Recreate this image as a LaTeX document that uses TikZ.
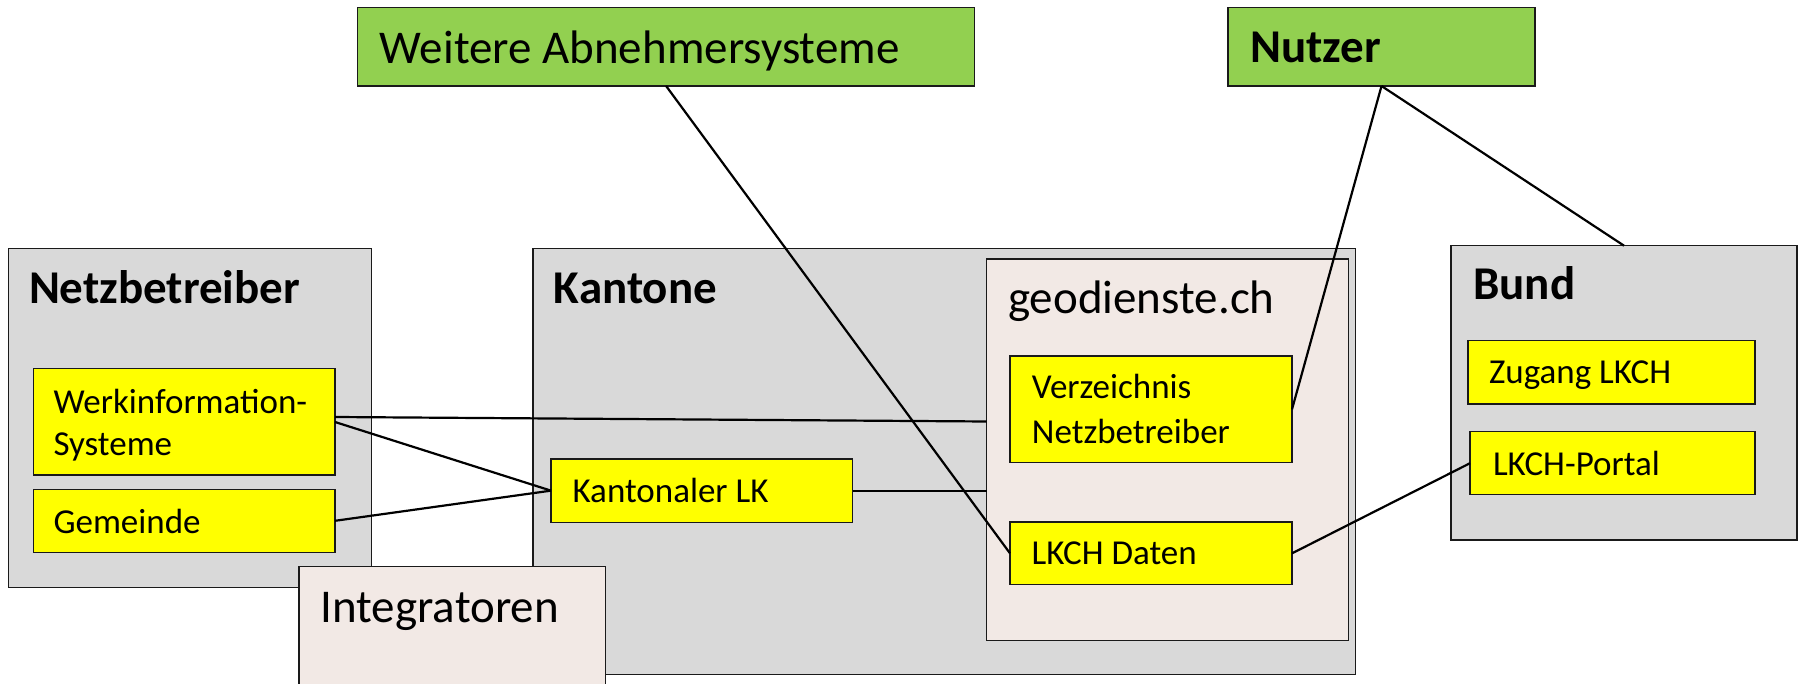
\documentclass[tikz,border=0pt]{standalone}
\usepackage{fontspec}
\setmainfont{Carlito}
\usetikzlibrary{calc}
\definecolor{boxgray}{HTML}{D9D9D9}
\definecolor{boxyellow}{HTML}{FFFF00}
\definecolor{boxgreen}{HTML}{92D050}
\definecolor{boxbeige}{HTML}{F2E9E5}
\definecolor{edgecol}{HTML}{1A1A1A}
\tikzset{
  box/.style={draw=edgecol, line width=1.5pt, inner sep=0pt, outer sep=0pt, anchor=north west, rectangle},
  graybox/.style={box, fill=boxgray},
  yellowbox/.style={box, fill=boxyellow},
  greenbox/.style={box, fill=boxgreen},
  beigebox/.style={box, fill=boxbeige},
  bigtxt/.style={anchor=base west, inner sep=0pt, font=\fontsize{47}{56}\selectfont},
  bigbold/.style={anchor=base west, inner sep=0pt, font=\fontsize{47}{56}\selectfont\bfseries},
  smalltxt/.style={anchor=base west, inner sep=0pt, font=\fontsize{35}{42}\selectfont},
  conn/.style={draw=black, line width=2.2pt}
}
\begin{document}
\begin{tikzpicture}[x=1pt,y=-1pt]
\path[use as bounding box] (0,0) rectangle (1804,684);
\clip (0,0) rectangle (1804,684);
\fill[white] (0,0) rectangle (1804,684);
% Netzbetreiber
\node[graybox, minimum width=363pt, minimum height=339.4pt] (netz) at (8.6,248.3) {};
\node[bigbold] (netzT) at (28.8,303.3) {Netzbetreiber};
\node[yellowbox, minimum width=301.7pt, minimum height=106.5pt] (werk) at (33.3,368.5) {};
\node[smalltxt] (werkA) at (53.3,413.3) {Werkinformation-};
\node[smalltxt] (werkB) at (53.3,455) {Systeme};
\node[yellowbox, minimum width=301.7pt, minimum height=63pt] (gem) at (33.3,489.3) {};
\node[smalltxt] (gemT) at (53.3,533.3) {Gemeinde};
% Kantone
\node[graybox, minimum width=822.7pt, minimum height=426pt] (kant) at (533,248.3) {};
\node[bigbold] (kantT) at (553.7,303.3) {Kantone};
\node[beigebox, minimum width=361.6pt, minimum height=381.3pt] (geo) at (986.7,259) {};
\node[bigtxt] (geoT) at (1008,313.3) {geodienste.ch};
\node[yellowbox, minimum width=282pt, minimum height=106.7pt] (verz) at (1010,356) {};
\node[smalltxt] (verzA) at (1031.7,398.3) {Verzeichnis};
\node[smalltxt] (verzB) at (1031.7,443.5) {Netzbetreiber};
\node[yellowbox, minimum width=282pt, minimum height=62.7pt] (daten) at (1010,522) {};
\node[smalltxt] (datenT) at (1031.4,564.7) {LKCH Daten};
\node[yellowbox, minimum width=301.7pt, minimum height=63.3pt] (klk) at (551,459) {};
\node[smalltxt] (klkT) at (572.4,502) {Kantonaler LK};
% Bund
\node[graybox, minimum width=346pt, minimum height=294.3pt] (bund) at (1451,245.7) {};
\node[bigbold] (bundT) at (1473,300) {Bund};
\node[yellowbox, minimum width=287pt, minimum height=63.3pt] (zug) at (1468,340.7) {};
\node[smalltxt] (zugT) at (1488.8,383.7) {Zugang LKCH};
\node[yellowbox, minimum width=285pt, minimum height=63pt] (portal) at (1470,431.7) {};
\node[smalltxt] (portalT) at (1492.8,475.3) {LKCH-Portal};
% top green boxes
\node[greenbox, minimum width=617pt, minimum height=78.7pt] (weit) at (357.6,7.3) {};
\node[bigtxt] (weitT) at (379.5,63.3) {Weitere Abnehmersysteme};
\node[greenbox, minimum width=307pt, minimum height=78.7pt] (nutz) at (1228,7.3) {};
\node[bigbold] (nutzT) at (1250,62.3) {Nutzer};
% connectors
\draw[conn] ($(werk.north east)+(0,48.5)$) -- ($(geo.north west)+(0,162.5)$);
\draw[conn] ($(werk.north east)+(0,53.5)$) -- (klk.west);
\draw[conn] (gem.east) -- (klk.west);
\draw[conn] (klk.east) -- (klk.east -| geo.west);
\draw[conn] (weit.south) -- (daten.west);
\draw[conn] (nutz.south) -- (verz.east);
\draw[conn] (nutz.south) -- (bund.north);
\draw[conn] (daten.east) -- (portal.west);
% Integratoren on top
\node[beigebox, minimum width=306.5pt, minimum height=140pt] (integ) at (299,566.3) {};
\node[bigtxt] (integT) at (320.4,622) {Integratoren};
\end{tikzpicture}
\end{document}
